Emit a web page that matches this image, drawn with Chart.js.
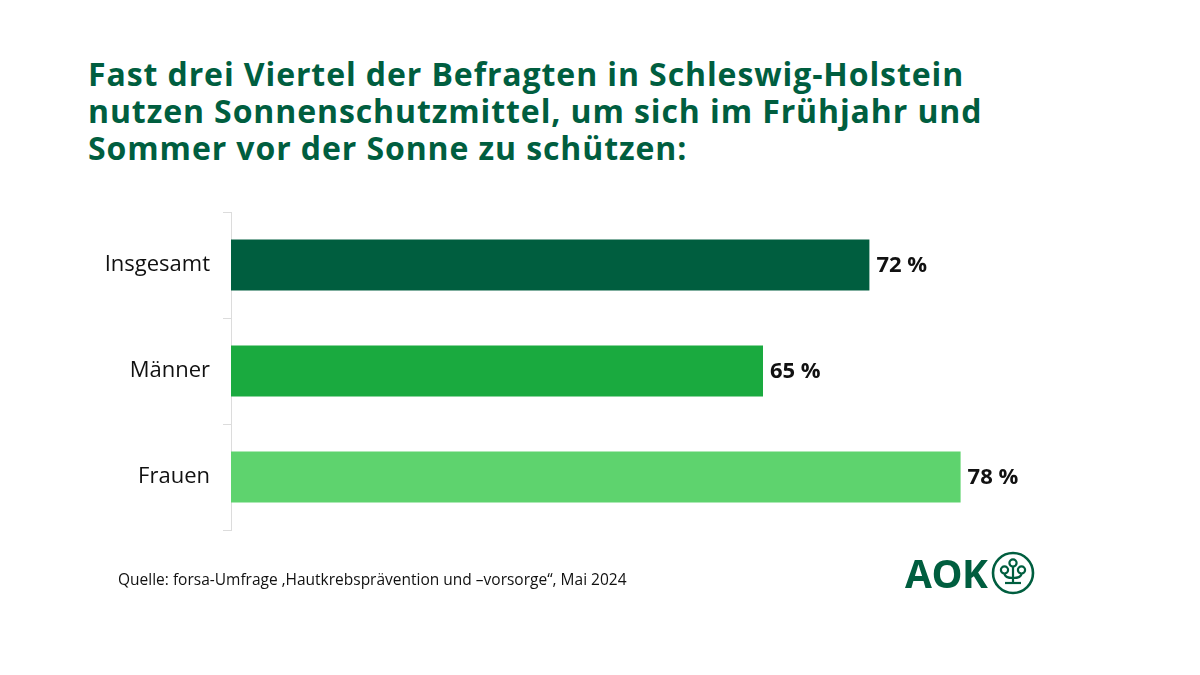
<!DOCTYPE html>
<html>
<head>
<meta charset="utf-8">
<script src="https://cdn.jsdelivr.net/npm/chart.js@4"></script>
<style>
  html,body{margin:0;padding:0;background:#fff;}
  #wrap{position:relative;width:1200px;height:675px;overflow:hidden;font-family:"Open Sans",sans-serif;}
  #title{position:absolute;left:88px;top:55px;margin:0;font-size:32px;line-height:37px;font-weight:700;color:#005E3F;letter-spacing:0.9px;}
  #chartBox{position:absolute;left:0;top:0;width:1200px;height:675px;}
  #source{position:absolute;left:118px;top:568px;font-size:15.5px;color:#111;}
  #logo{position:absolute;left:905px;top:549px;height:48px;display:flex;align-items:center;}
  #logo span{font-family:"Open Sans",sans-serif;font-weight:700;font-size:39px;color:#005E3F;letter-spacing:-0.5px;line-height:48px;}
  #logo svg{margin-left:3px;}
</style>
</head>
<body>
<div id="wrap">
  <h1 id="title">Fast drei Viertel der Befragten in Schleswig-Holstein<br>nutzen Sonnenschutzmittel, um sich im Frühjahr und<br>Sommer vor der Sonne zu schützen:</h1>
  <div id="chartBox"><canvas id="c" width="1200" height="675"></canvas></div>
  <div id="source">Quelle: forsa-Umfrage ‚Hautkrebsprävention und –vorsorge“, Mai 2024</div>
  <div id="logo"><span>AOK</span>
    <svg width="46" height="46" viewBox="0 0 46 46">
      <circle cx="23" cy="23" r="20" fill="none" stroke="#005E3F" stroke-width="2.6"/>
      <circle cx="23" cy="13" r="3.6" fill="none" stroke="#005E3F" stroke-width="2.2"/>
      <circle cx="14.5" cy="20" r="3.6" fill="none" stroke="#005E3F" stroke-width="2.2"/>
      <circle cx="31.5" cy="20" r="3.6" fill="none" stroke="#005E3F" stroke-width="2.2"/>
      <path d="M23 17 V32 M14.5 24 Q15 28 23 28 Q31 28 31.5 24" fill="none" stroke="#005E3F" stroke-width="2.2"/>
      <path d="M15 33 H31" stroke="#005E3F" stroke-width="2.2"/>
    </svg>
  </div>
</div>
<script>
const categories = ["Insgesamt", "Männer", "Frauen"];
const values = [72, 65, 78];
const valueLabels = ["72 %", "65 %", "78 %"];
const barColors = ["#005E3F", "#1AAA3F", "#5ED36E"];

const labelPlugin = {
  id: "valueLabels",
  afterDatasetsDraw(chart) {
    const ctx = chart.ctx;
    const meta = chart.getDatasetMeta(0);
    ctx.save();
    ctx.font = "700 22px 'Open Sans', sans-serif";
    ctx.fillStyle = "#111";
    ctx.textAlign = "left";
    ctx.textBaseline = "middle";
    meta.data.forEach((bar, i) => {
      ctx.fillText(valueLabels[i], bar.x + 7, bar.y + 1);
    });
    ctx.restore();
  }
};

new Chart(document.getElementById("c"), {
  type: "bar",
  data: {
    labels: categories,
    datasets: [{
      data: values,
      backgroundColor: barColors,
      borderWidth: 0,
      barPercentage: 0.48,
      categoryPercentage: 1
    }]
  },
  options: {
    indexAxis: "y",
    responsive: false,
    animation: false,
    events: [],
    layout: { padding: { top: 212, bottom: 145, left: 0, right: 209 } },
    plugins: { legend: { display: false }, tooltip: { enabled: false } },
    scales: {
      x: { display: false, min: 30, max: 80 },
      y: {
        afterFit(scale) { scale.width = 231; },
        border: { display: true, color: "#dcdcdc", width: 1 },
        grid: { display: true, drawOnChartArea: false, drawTicks: true, tickLength: 8, color: "#dcdcdc", offset: true },
        ticks: { color: "#111", padding: 13, font: { family: "'Open Sans', sans-serif", size: 22 } }
      }
    }
  },
  plugins: [labelPlugin]
});
</script>
</body>
</html>
